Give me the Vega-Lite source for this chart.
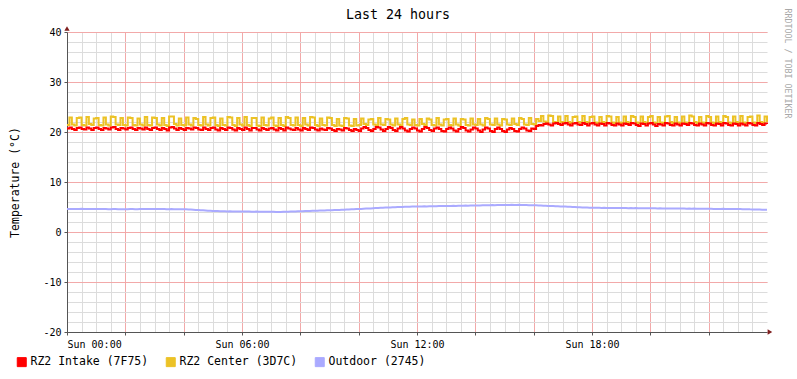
{
"$schema":"https://vega.github.io/schema/vega-lite/v6.json",
"width":700,"height":300,
"autosize":"none",
"padding":{"left":67,"top":32,"right":30,"bottom":47},
"background":"white",
"config":{"view":{"stroke":null},"axis":{"labelFont":"DejaVu Sans Mono","titleFont":"DejaVu Sans Mono","labelFontSize":10,"labelColor":"#000000","titleFontWeight":"normal","titleColor":"#000000"}},
"title":{"text":"Last 24 hours","font":"DejaVu Sans Mono","fontSize":13.3,"fontWeight":"normal","color":"#000000","anchor":"middle","frame":"group","dx":-19,"baseline":"alphabetic","offset":-24},
"data":{"values":[
{"t":0,"intake":20.7,"center":21.4,"outdoor":4.6},{"t":5,"intake":20.9,"center":22.9,"outdoor":4.6},{"t":10,"intake":20.6,"center":21.5,"outdoor":4.62},{"t":15,"intake":20.4,"center":21.3,"outdoor":4.58},{"t":20,"intake":20.8,"center":22.8,"outdoor":4.6},{"t":25,"intake":20.9,"center":22.9,"outdoor":4.6},{"t":30,"intake":20.6,"center":21.4,"outdoor":4.63},{"t":35,"intake":20.5,"center":21.3,"outdoor":4.6},{"t":40,"intake":20.9,"center":23.0,"outdoor":4.58},{"t":45,"intake":20.7,"center":21.6,"outdoor":4.6},{"t":50,"intake":20.4,"center":21.4,"outdoor":4.62},{"t":55,"intake":20.8,"center":22.7,"outdoor":4.6},
{"t":60,"intake":20.9,"center":22.8,"outdoor":4.6},{"t":65,"intake":20.6,"center":21.4,"outdoor":4.58},{"t":70,"intake":20.4,"center":21.3,"outdoor":4.6},{"t":75,"intake":20.8,"center":22.9,"outdoor":4.62},{"t":80,"intake":20.7,"center":21.5,"outdoor":4.6},{"t":85,"intake":20.5,"center":21.3,"outdoor":4.57},{"t":90,"intake":20.9,"center":23.1,"outdoor":4.55},{"t":95,"intake":21.0,"center":23.0,"outdoor":4.58},{"t":100,"intake":20.6,"center":21.5,"outdoor":4.6},{"t":105,"intake":20.4,"center":21.4,"outdoor":4.56},{"t":110,"intake":20.8,"center":22.8,"outdoor":4.55},{"t":115,"intake":20.7,"center":21.4,"outdoor":4.57},
{"t":120,"intake":20.5,"center":21.3,"outdoor":4.55},{"t":125,"intake":20.8,"center":22.9,"outdoor":4.55},{"t":130,"intake":20.9,"center":22.8,"outdoor":4.58},{"t":135,"intake":20.6,"center":21.4,"outdoor":4.6},{"t":140,"intake":20.4,"center":21.3,"outdoor":4.57},{"t":145,"intake":20.8,"center":22.7,"outdoor":4.55},{"t":150,"intake":20.7,"center":21.5,"outdoor":4.6},{"t":155,"intake":20.5,"center":21.3,"outdoor":4.62},{"t":160,"intake":20.9,"center":23.0,"outdoor":4.6},{"t":165,"intake":20.6,"center":21.4,"outdoor":4.58},{"t":170,"intake":20.4,"center":21.3,"outdoor":4.6},{"t":175,"intake":20.8,"center":22.9,"outdoor":4.6},
{"t":180,"intake":20.9,"center":22.8,"outdoor":4.62},{"t":185,"intake":20.6,"center":21.5,"outdoor":4.6},{"t":190,"intake":20.4,"center":21.3,"outdoor":4.58},{"t":195,"intake":20.8,"center":22.8,"outdoor":4.6},{"t":200,"intake":20.6,"center":21.4,"outdoor":4.6},{"t":205,"intake":20.3,"center":21.2,"outdoor":4.57},{"t":210,"intake":20.9,"center":23.1,"outdoor":4.55},{"t":215,"intake":21.0,"center":23.1,"outdoor":4.58},{"t":220,"intake":20.7,"center":21.6,"outdoor":4.56},{"t":225,"intake":20.4,"center":21.3,"outdoor":4.55},{"t":230,"intake":20.8,"center":22.7,"outdoor":4.57},{"t":235,"intake":20.6,"center":21.4,"outdoor":4.55},
{"t":240,"intake":20.4,"center":21.3,"outdoor":4.55},{"t":245,"intake":20.8,"center":22.9,"outdoor":4.53},{"t":250,"intake":20.7,"center":21.5,"outdoor":4.5},{"t":255,"intake":20.5,"center":21.3,"outdoor":4.5},{"t":260,"intake":20.9,"center":22.8,"outdoor":4.46},{"t":265,"intake":20.8,"center":22.6,"outdoor":4.42},{"t":270,"intake":20.5,"center":21.4,"outdoor":4.4},{"t":275,"intake":20.4,"center":21.3,"outdoor":4.36},{"t":280,"intake":20.9,"center":23.0,"outdoor":4.33},{"t":285,"intake":20.6,"center":21.5,"outdoor":4.3},{"t":290,"intake":20.4,"center":21.3,"outdoor":4.26},{"t":295,"intake":20.8,"center":22.8,"outdoor":4.23},
{"t":300,"intake":20.9,"center":22.9,"outdoor":4.2},{"t":305,"intake":20.5,"center":21.4,"outdoor":4.2},{"t":310,"intake":20.3,"center":21.2,"outdoor":4.18},{"t":315,"intake":20.8,"center":22.7,"outdoor":4.15},{"t":320,"intake":20.6,"center":21.4,"outdoor":4.17},{"t":325,"intake":20.4,"center":21.3,"outdoor":4.15},{"t":330,"intake":20.9,"center":23.0,"outdoor":4.12},{"t":335,"intake":20.8,"center":22.9,"outdoor":4.14},{"t":340,"intake":20.5,"center":21.4,"outdoor":4.12},{"t":345,"intake":20.3,"center":21.2,"outdoor":4.1},{"t":350,"intake":20.8,"center":22.8,"outdoor":4.12},{"t":355,"intake":20.6,"center":21.5,"outdoor":4.1},
{"t":360,"intake":20.4,"center":21.3,"outdoor":4.1},{"t":365,"intake":20.9,"center":23.0,"outdoor":4.1},{"t":370,"intake":20.6,"center":21.4,"outdoor":4.08},{"t":375,"intake":20.3,"center":21.2,"outdoor":4.1},{"t":380,"intake":20.8,"center":22.8,"outdoor":4.07},{"t":385,"intake":20.8,"center":22.8,"outdoor":4.05},{"t":390,"intake":20.5,"center":21.3,"outdoor":4.08},{"t":395,"intake":20.3,"center":21.2,"outdoor":4.06},{"t":400,"intake":20.8,"center":22.9,"outdoor":4.05},{"t":405,"intake":20.6,"center":21.4,"outdoor":4.07},{"t":410,"intake":20.4,"center":21.3,"outdoor":4.05},{"t":415,"intake":20.7,"center":22.7,"outdoor":4.05},
{"t":420,"intake":20.8,"center":22.9,"outdoor":4.05},{"t":425,"intake":20.5,"center":21.3,"outdoor":4.03},{"t":430,"intake":20.3,"center":21.2,"outdoor":4.0},{"t":435,"intake":20.8,"center":22.8,"outdoor":3.98},{"t":440,"intake":20.6,"center":21.4,"outdoor":4.02},{"t":445,"intake":20.3,"center":21.2,"outdoor":4.05},{"t":450,"intake":20.9,"center":23.0,"outdoor":4.04},{"t":455,"intake":20.7,"center":22.8,"outdoor":4.07},{"t":460,"intake":20.5,"center":21.4,"outdoor":4.08},{"t":465,"intake":20.4,"center":21.3,"outdoor":4.1},{"t":470,"intake":20.8,"center":22.9,"outdoor":4.12},{"t":475,"intake":20.5,"center":21.4,"outdoor":4.13},
{"t":480,"intake":20.3,"center":21.2,"outdoor":4.15},{"t":485,"intake":20.8,"center":22.8,"outdoor":4.15},{"t":490,"intake":20.6,"center":21.5,"outdoor":4.18},{"t":495,"intake":20.4,"center":21.3,"outdoor":4.2},{"t":500,"intake":20.9,"center":23.0,"outdoor":4.2},{"t":505,"intake":20.8,"center":22.9,"outdoor":4.23},{"t":510,"intake":20.5,"center":21.4,"outdoor":4.25},{"t":515,"intake":20.3,"center":21.2,"outdoor":4.26},{"t":520,"intake":20.7,"center":22.7,"outdoor":4.28},{"t":525,"intake":20.5,"center":21.4,"outdoor":4.3},{"t":530,"intake":20.4,"center":21.3,"outdoor":4.32},{"t":535,"intake":20.8,"center":22.9,"outdoor":4.33},
{"t":540,"intake":20.7,"center":22.8,"outdoor":4.35},{"t":545,"intake":20.4,"center":21.4,"outdoor":4.37},{"t":550,"intake":20.2,"center":21.2,"outdoor":4.38},{"t":555,"intake":20.6,"center":22.6,"outdoor":4.4},{"t":560,"intake":20.5,"center":21.3,"outdoor":4.42},{"t":565,"intake":20.3,"center":21.2,"outdoor":4.45},{"t":570,"intake":20.8,"center":22.8,"outdoor":4.47},{"t":575,"intake":20.7,"center":22.7,"outdoor":4.5},{"t":580,"intake":20.4,"center":21.3,"outdoor":4.52},{"t":585,"intake":20.2,"center":21.2,"outdoor":4.55},{"t":590,"intake":20.6,"center":22.6,"outdoor":4.57},{"t":595,"intake":20.4,"center":21.3,"outdoor":4.58},
{"t":600,"intake":20.2,"center":21.4,"outdoor":4.6},{"t":605,"intake":20.7,"center":22.7,"outdoor":4.62},{"t":610,"intake":21.0,"center":21.6,"outdoor":4.65},{"t":615,"intake":20.8,"center":21.4,"outdoor":4.68},{"t":620,"intake":20.4,"center":22.5,"outdoor":4.7},{"t":625,"intake":20.2,"center":22.6,"outdoor":4.72},{"t":630,"intake":20.6,"center":21.5,"outdoor":4.75},{"t":635,"intake":21.0,"center":21.3,"outdoor":4.78},{"t":640,"intake":20.9,"center":22.8,"outdoor":4.8},{"t":645,"intake":20.5,"center":21.5,"outdoor":4.83},{"t":650,"intake":20.2,"center":21.4,"outdoor":4.86},{"t":655,"intake":20.6,"center":22.6,"outdoor":4.88},
{"t":660,"intake":21.0,"center":22.5,"outdoor":4.9},{"t":665,"intake":20.8,"center":21.5,"outdoor":4.92},{"t":670,"intake":20.4,"center":21.3,"outdoor":4.95},{"t":675,"intake":20.2,"center":22.7,"outdoor":4.97},{"t":680,"intake":20.7,"center":21.5,"outdoor":4.98},{"t":685,"intake":21.0,"center":21.3,"outdoor":5.0},{"t":690,"intake":20.7,"center":22.6,"outdoor":5.02},{"t":695,"intake":20.3,"center":22.8,"outdoor":5.05},{"t":700,"intake":20.1,"center":21.5,"outdoor":5.05},{"t":705,"intake":20.6,"center":21.4,"outdoor":5.07},{"t":710,"intake":20.9,"center":22.5,"outdoor":5.08},{"t":715,"intake":20.7,"center":21.4,"outdoor":5.1},
{"t":720,"intake":20.3,"center":21.3,"outdoor":5.1},{"t":725,"intake":20.1,"center":22.6,"outdoor":5.1},{"t":730,"intake":20.6,"center":21.6,"outdoor":5.12},{"t":735,"intake":21.0,"center":21.4,"outdoor":5.13},{"t":740,"intake":20.8,"center":22.7,"outdoor":5.12},{"t":745,"intake":20.4,"center":22.5,"outdoor":5.15},{"t":750,"intake":20.2,"center":21.4,"outdoor":5.15},{"t":755,"intake":20.7,"center":21.3,"outdoor":5.17},{"t":760,"intake":20.9,"center":22.8,"outdoor":5.16},{"t":765,"intake":20.6,"center":21.5,"outdoor":5.18},{"t":770,"intake":20.2,"center":21.3,"outdoor":5.2},{"t":775,"intake":20.1,"center":22.5,"outdoor":5.18},
{"t":780,"intake":20.6,"center":22.6,"outdoor":5.2},{"t":785,"intake":20.9,"center":21.4,"outdoor":5.2},{"t":790,"intake":20.7,"center":21.3,"outdoor":5.22},{"t":795,"intake":20.3,"center":22.7,"outdoor":5.23},{"t":800,"intake":20.1,"center":21.5,"outdoor":5.22},{"t":805,"intake":20.6,"center":21.3,"outdoor":5.25},{"t":810,"intake":21.0,"center":22.6,"outdoor":5.26},{"t":815,"intake":20.8,"center":22.5,"outdoor":5.25},{"t":820,"intake":20.3,"center":21.4,"outdoor":5.28},{"t":825,"intake":20.1,"center":21.3,"outdoor":5.27},{"t":830,"intake":20.5,"center":22.7,"outdoor":5.3},{"t":835,"intake":20.9,"center":21.5,"outdoor":5.28},
{"t":840,"intake":20.7,"center":21.4,"outdoor":5.3},{"t":845,"intake":20.3,"center":22.6,"outdoor":5.32},{"t":850,"intake":20.0,"center":21.5,"outdoor":5.3},{"t":855,"intake":20.5,"center":21.3,"outdoor":5.33},{"t":860,"intake":20.9,"center":22.8,"outdoor":5.35},{"t":865,"intake":20.7,"center":22.6,"outdoor":5.34},{"t":870,"intake":20.2,"center":21.5,"outdoor":5.36},{"t":875,"intake":20.0,"center":21.4,"outdoor":5.38},{"t":880,"intake":20.6,"center":22.7,"outdoor":5.37},{"t":885,"intake":20.9,"center":21.5,"outdoor":5.4},{"t":890,"intake":20.6,"center":21.3,"outdoor":5.38},{"t":895,"intake":20.2,"center":22.6,"outdoor":5.4},
{"t":900,"intake":20.0,"center":22.5,"outdoor":5.4},{"t":905,"intake":20.5,"center":21.5,"outdoor":5.42},{"t":910,"intake":20.8,"center":21.4,"outdoor":5.4},{"t":915,"intake":20.6,"center":22.7,"outdoor":5.45},{"t":920,"intake":20.2,"center":21.6,"outdoor":5.42},{"t":925,"intake":20.1,"center":21.4,"outdoor":5.4},{"t":930,"intake":20.6,"center":22.8,"outdoor":5.43},{"t":935,"intake":20.9,"center":22.6,"outdoor":5.4},{"t":940,"intake":20.7,"center":21.5,"outdoor":5.38},{"t":945,"intake":20.3,"center":21.4,"outdoor":5.4},{"t":950,"intake":20.2,"center":22.8,"outdoor":5.37},{"t":955,"intake":20.7,"center":21.6,"outdoor":5.36},
{"t":960,"intake":20.6,"center":21.5,"outdoor":5.35},{"t":965,"intake":21.2,"center":22.6,"outdoor":5.33},{"t":970,"intake":21.4,"center":22.2,"outdoor":5.3},{"t":975,"intake":21.3,"center":23.2,"outdoor":5.3},{"t":980,"intake":21.6,"center":22.1,"outdoor":5.27},{"t":985,"intake":21.7,"center":21.9,"outdoor":5.25},{"t":990,"intake":21.5,"center":23.3,"outdoor":5.22},{"t":995,"intake":21.3,"center":23.2,"outdoor":5.2},{"t":1000,"intake":21.7,"center":22.0,"outdoor":5.18},{"t":1005,"intake":21.8,"center":21.9,"outdoor":5.15},{"t":1010,"intake":21.6,"center":23.1,"outdoor":5.13},{"t":1015,"intake":21.4,"center":22.0,"outdoor":5.12},
{"t":1020,"intake":21.7,"center":21.9,"outdoor":5.1},{"t":1025,"intake":21.8,"center":23.2,"outdoor":5.08},{"t":1030,"intake":21.5,"center":22.0,"outdoor":5.05},{"t":1035,"intake":21.3,"center":21.8,"outdoor":5.03},{"t":1040,"intake":21.7,"center":23.0,"outdoor":5.0},{"t":1045,"intake":21.8,"center":23.1,"outdoor":4.98},{"t":1050,"intake":21.5,"center":22.0,"outdoor":4.96},{"t":1055,"intake":21.4,"center":21.9,"outdoor":4.94},{"t":1060,"intake":21.8,"center":23.2,"outdoor":4.92},{"t":1065,"intake":21.6,"center":22.0,"outdoor":4.9},{"t":1070,"intake":21.3,"center":21.9,"outdoor":4.88},{"t":1075,"intake":21.7,"center":23.0,"outdoor":4.87},
{"t":1080,"intake":21.8,"center":23.1,"outdoor":4.85},{"t":1085,"intake":21.5,"center":21.9,"outdoor":4.85},{"t":1090,"intake":21.3,"center":21.8,"outdoor":4.83},{"t":1095,"intake":21.7,"center":23.0,"outdoor":4.84},{"t":1100,"intake":21.6,"center":22.0,"outdoor":4.82},{"t":1105,"intake":21.3,"center":21.8,"outdoor":4.83},{"t":1110,"intake":21.8,"center":23.2,"outdoor":4.8},{"t":1115,"intake":21.7,"center":23.1,"outdoor":4.82},{"t":1120,"intake":21.4,"center":21.9,"outdoor":4.8},{"t":1125,"intake":21.3,"center":21.8,"outdoor":4.81},{"t":1130,"intake":21.7,"center":23.0,"outdoor":4.8},{"t":1135,"intake":21.5,"center":21.9,"outdoor":4.8},
{"t":1140,"intake":21.3,"center":21.8,"outdoor":4.8},{"t":1145,"intake":21.7,"center":23.1,"outdoor":4.78},{"t":1150,"intake":21.6,"center":22.0,"outdoor":4.8},{"t":1155,"intake":21.4,"center":21.8,"outdoor":4.77},{"t":1160,"intake":21.8,"center":23.2,"outdoor":4.78},{"t":1165,"intake":21.7,"center":23.0,"outdoor":4.76},{"t":1170,"intake":21.4,"center":21.9,"outdoor":4.78},{"t":1175,"intake":21.2,"center":21.8,"outdoor":4.75},{"t":1180,"intake":21.7,"center":23.1,"outdoor":4.77},{"t":1185,"intake":21.6,"center":22.0,"outdoor":4.75},{"t":1190,"intake":21.3,"center":21.8,"outdoor":4.76},{"t":1195,"intake":21.7,"center":23.0,"outdoor":4.75},
{"t":1200,"intake":21.8,"center":23.2,"outdoor":4.75},{"t":1205,"intake":21.5,"center":21.9,"outdoor":4.73},{"t":1210,"intake":21.2,"center":21.8,"outdoor":4.75},{"t":1215,"intake":21.6,"center":23.0,"outdoor":4.72},{"t":1220,"intake":21.5,"center":21.9,"outdoor":4.74},{"t":1225,"intake":21.3,"center":21.8,"outdoor":4.72},{"t":1230,"intake":21.8,"center":23.1,"outdoor":4.7},{"t":1235,"intake":21.7,"center":23.2,"outdoor":4.72},{"t":1240,"intake":21.4,"center":22.0,"outdoor":4.71},{"t":1245,"intake":21.3,"center":21.8,"outdoor":4.7},{"t":1250,"intake":21.7,"center":23.0,"outdoor":4.72},{"t":1255,"intake":21.5,"center":21.9,"outdoor":4.7},
{"t":1260,"intake":21.3,"center":21.8,"outdoor":4.7},{"t":1265,"intake":21.7,"center":23.1,"outdoor":4.68},{"t":1270,"intake":21.6,"center":21.9,"outdoor":4.7},{"t":1275,"intake":21.4,"center":21.8,"outdoor":4.67},{"t":1280,"intake":21.8,"center":23.3,"outdoor":4.68},{"t":1285,"intake":21.7,"center":23.1,"outdoor":4.66},{"t":1290,"intake":21.4,"center":22.0,"outdoor":4.68},{"t":1295,"intake":21.3,"center":21.8,"outdoor":4.65},{"t":1300,"intake":21.7,"center":23.0,"outdoor":4.67},{"t":1305,"intake":21.5,"center":21.9,"outdoor":4.65},{"t":1310,"intake":21.3,"center":21.8,"outdoor":4.66},{"t":1315,"intake":21.8,"center":23.2,"outdoor":4.65},
{"t":1320,"intake":21.7,"center":23.0,"outdoor":4.65},{"t":1325,"intake":21.4,"center":21.9,"outdoor":4.63},{"t":1330,"intake":21.3,"center":21.8,"outdoor":4.6},{"t":1335,"intake":21.7,"center":23.1,"outdoor":4.58},{"t":1340,"intake":21.6,"center":22.0,"outdoor":4.62},{"t":1345,"intake":21.3,"center":21.8,"outdoor":4.6},{"t":1350,"intake":21.8,"center":23.2,"outdoor":4.63},{"t":1355,"intake":21.7,"center":23.0,"outdoor":4.6},{"t":1360,"intake":21.4,"center":21.9,"outdoor":4.62},{"t":1365,"intake":21.3,"center":21.8,"outdoor":4.6},{"t":1370,"intake":21.7,"center":23.1,"outdoor":4.58},{"t":1375,"intake":21.6,"center":22.0,"outdoor":4.6},
{"t":1380,"intake":21.3,"center":21.8,"outdoor":4.6},{"t":1385,"intake":21.7,"center":23.2,"outdoor":4.58},{"t":1390,"intake":21.5,"center":21.9,"outdoor":4.57},{"t":1395,"intake":21.3,"center":21.8,"outdoor":4.55},{"t":1400,"intake":21.8,"center":23.0,"outdoor":4.56},{"t":1405,"intake":21.7,"center":23.1,"outdoor":4.53},{"t":1410,"intake":21.4,"center":21.9,"outdoor":4.52},{"t":1415,"intake":21.3,"center":21.8,"outdoor":4.5},{"t":1420,"intake":21.8,"center":23.3,"outdoor":4.5},{"t":1425,"intake":21.6,"center":22.0,"outdoor":4.48},{"t":1430,"intake":21.4,"center":21.8,"outdoor":4.47},{"t":1435,"intake":21.7,"center":23.1,"outdoor":4.46},
{"t":1440,"intake":21.6,"center":22.0,"outdoor":4.45}
]},
"layer":[
{"mark":{"type":"line","interpolate":"step-after","strokeWidth":2},
 "encoding":{
  "x":{"field":"t","type":"quantitative","scale":{"domain":[0,1440],"nice":false,"zero":false},
   "axis":{"orient":"bottom","values":[0,30,60,90,120,150,180,210,240,270,300,330,360,390,420,450,480,510,540,570,600,630,660,690,720,750,780,810,840,870,900,930,960,990,1020,1050,1080,1110,1140,1170,1200,1230,1260,1290,1320,1350,1380,1410],"grid":true,"gridColor":"#dcdcdc","gridWidth":1,"labels":false,"ticks":false,"domain":false,"title":null}},
  "y":{"field":"center","type":"quantitative","scale":{"domain":[-20,40],"nice":false,"zero":false},
   "axis":{"orient":"left","values":[-20,-18,-16,-14,-12,-10,-8,-6,-4,-2,0,2,4,6,8,10,12,14,16,18,20,22,24,26,28,30,32,34,36,38,40],"grid":true,"gridColor":"#dcdcdc","gridWidth":1,"labels":false,"ticks":false,"domain":false,"title":null}},
  "color":{"datum":"RZ2 Center (3D7C)","type":"nominal",
   "scale":{"domain":["RZ2 Intake (7F75)","RZ2 Center (3D7C)","Outdoor (2745)"],"range":["#ff0000","#ecc226","#aaaaff"]},
   "legend":{"orient":"none","legendX":-51,"legendY":324,"direction":"horizontal","title":null,"symbolType":"square","symbolSize":81,"labelFont":"DejaVu Sans Mono","labelFontSize":11.5,"labelColor":"#000000","columnPadding":15,"labelOffset":3,"padding":0,
    "encode":{"symbols":{"update":{"fill":{"scale":"color","field":"value"},"stroke":{"value":"#000000"},"strokeWidth":{"value":1},"opacity":{"value":1},"fillOpacity":{"value":1},"strokeOpacity":{"value":1}}}}}}
 }},
{"mark":{"type":"line","interpolate":"step-after","strokeWidth":2},
 "encoding":{
  "x":{"field":"t","type":"quantitative","scale":{"domain":[0,1440],"nice":false,"zero":false},
   "axis":{"orient":"bottom","values":[0,120,240,360,480,600,720,840,960,1080,1200,1320],"grid":true,"gridColor":"#f2a9a9","gridWidth":1,"labels":false,"ticks":true,"tickSize":3,"tickColor":"#555555","domain":false,"title":null}},
  "y":{"field":"intake","type":"quantitative","scale":{"domain":[-20,40],"nice":false,"zero":false},
   "axis":{"orient":"left","values":[-20,-10,0,10,20,30,40],"labelExpr":"datum.value + ''","grid":true,"gridColor":"#f2a9a9","gridWidth":1,"labels":true,"labelFontSize":10,"labelPadding":3,"ticks":true,"tickSize":3,"tickColor":"#555555","domain":true,"domainColor":"#555555","title":"Temperature (°C)","titleFontSize":11.5,"titleX":-52,"titleY":150,"titleAngle":-90,"titleAlign":"center","titleBaseline":"middle"}},
  "color":{"datum":"RZ2 Intake (7F75)","type":"nominal",
   "scale":{"domain":["RZ2 Intake (7F75)","RZ2 Center (3D7C)","Outdoor (2745)"],"range":["#ff0000","#ecc226","#aaaaff"]}}
 }},
{"mark":{"type":"line","strokeWidth":2},
 "encoding":{
  "x":{"field":"t","type":"quantitative","scale":{"domain":[0,1440],"nice":false,"zero":false},
   "axis":{"orient":"bottom","values":[0,360,720,1080],"labelExpr":"'Sun ' + (datum.value < 600 ? '0' : '') + (datum.value / 60) + ':00'","grid":false,"ticks":false,"tickSize":0,"labelPadding":7,"labelFontSize":10,"domain":true,"domainColor":"#555555","title":null}},
  "y":{"field":"outdoor","type":"quantitative","scale":{"domain":[-20,40],"nice":false,"zero":false},
   "axis":{"orient":"right","grid":false,"labels":false,"ticks":false,"domain":false,"title":"RRDTOOL / TOBI OETIKER","titleFont":"DejaVu Sans Mono","titleFontSize":8.3,"titleColor":"#a8a8a8","titleFontWeight":"normal","titleAngle":90,"titleX":19,"titleY":31,"titleAlign":"center","titleBaseline":"middle"}},
  "color":{"datum":"Outdoor (2745)","type":"nominal",
   "scale":{"domain":["RZ2 Intake (7F75)","RZ2 Center (3D7C)","Outdoor (2745)"],"range":["#ff0000","#ecc226","#aaaaff"]}}
 }},
{"data":{"values":[{}]},
 "mark":{"type":"point","shape":"triangle-up","filled":true,"color":"#7f1f1f","size":28,"opacity":1},
 "encoding":{"x":{"datum":0,"type":"quantitative","axis":null},"y":{"datum":40.7,"type":"quantitative","axis":null}}},
{"data":{"values":[{}]},
 "mark":{"type":"point","shape":"triangle-right","filled":true,"color":"#7f1f1f","size":28,"opacity":1},
 "encoding":{"x":{"datum":1446,"type":"quantitative","axis":null},"y":{"datum":-20,"type":"quantitative","axis":null}}}
],
"resolve":{"axis":{"x":"independent","y":"independent"}}
}
